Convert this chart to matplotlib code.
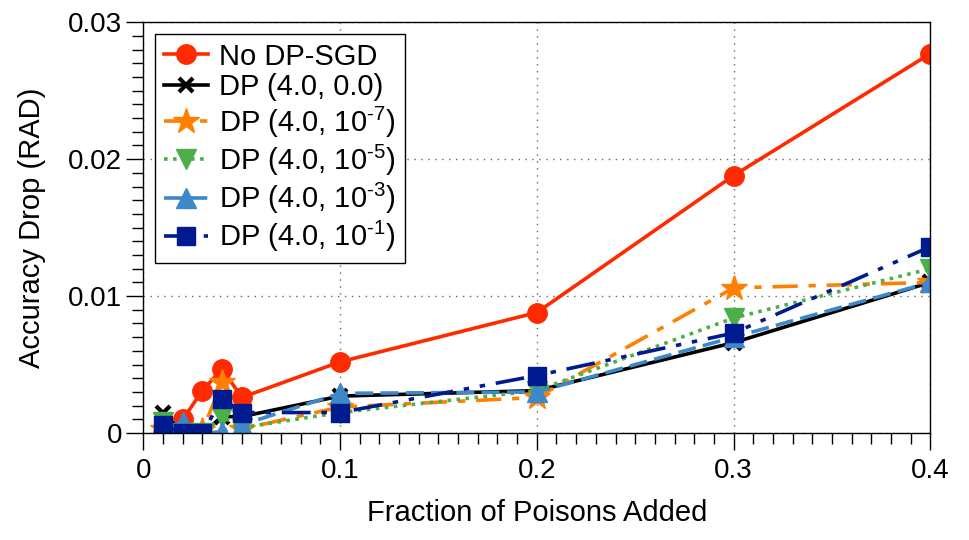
import matplotlib
matplotlib.use('Agg')
import matplotlib.pyplot as plt
from matplotlib.ticker import MultipleLocator, FuncFormatter

plt.rcParams['font.family'] = ['Liberation Sans', 'DejaVu Sans']
plt.rcParams['mathtext.fontset'] = 'custom'
plt.rcParams['mathtext.rm'] = 'Liberation Sans'

fractions = [0.01, 0.02, 0.03, 0.04, 0.05, 0.1, 0.2, 0.3, 0.4]

no_dp = [0.0000, 0.0010, 0.0031, 0.0047, 0.0026, 0.0052, 0.0088, 0.0188, 0.0277]
dp_0 = [0.0015, 0.0000, 0.0000, 0.0012, 0.0012, 0.0027, 0.0031, 0.0066, 0.0110]
dp_7 = [0.0003, 0.0000, 0.0002, 0.0037, 0.0003, 0.0019, 0.0026, 0.0106, 0.0110]
dp_5 = [0.0008, 0.0000, 0.0000, 0.0012, 0.0004, 0.0015, 0.0031, 0.0084, 0.0120]
dp_3 = [0.0003, 0.0008, 0.0000, 0.0001, 0.0006, 0.0029, 0.0030, 0.0070, 0.0110]
dp_1 = [0.0006, 0.0000, 0.0000, 0.0025, 0.0015, 0.0015, 0.0042, 0.0073, 0.0136]

labels = ['No DP-SGD', 'DP (4.0, 0.0)', r'DP (4.0, 10$^{\text{-}7}$)', r'DP (4.0, 10$^{\text{-}5}$)',
          r'DP (4.0, 10$^{\text{-}3}$)', r'DP (4.0, 10$^{\text{-}1}$)']

fig, ax = plt.subplots(figsize=(9.69, 5.4), dpi=100)
fig.subplots_adjust(left=0.148, right=0.96, top=0.959, bottom=0.198)

ax.plot(fractions, no_dp, color='#ff2a00', lw=2.6, marker='o', ms=14, mec='#ff2a00', label=labels[0])
ax.plot(fractions, dp_0, color='black', lw=2.6, marker='x', ms=10, mew=3, label=labels[1])
ax.plot(fractions, dp_7, color='#ff8000', lw=2.6, ls=(0, (7, 3, 2, 3)), marker='*', ms=19, label=labels[2])
ax.plot(fractions, dp_5, color='#4caf4a', lw=2.6, ls=(0, (1, 1.5)), marker='v', ms=14, label=labels[3])
ax.plot(fractions, dp_3, color='#3d88c8', lw=2.6, ls=(0, (5, 2)), marker='^', ms=14, label=labels[4])
ax.plot(fractions, dp_1, color='#001a8f', lw=2.6, ls=(0, (8, 3, 1.5, 3, 1.5, 3)), marker='s', ms=13.5, label=labels[5])

ax.set_xlim(0, 0.4)
ax.set_ylim(0, 0.03)
ax.xaxis.set_major_locator(MultipleLocator(0.1))
ax.xaxis.set_minor_locator(MultipleLocator(0.01))
ax.yaxis.set_major_locator(MultipleLocator(0.01))
ax.yaxis.set_minor_locator(MultipleLocator(0.001))
fmt = FuncFormatter(lambda v, p: '%g' % round(v, 4))
ax.xaxis.set_major_formatter(fmt)
ax.yaxis.set_major_formatter(fmt)
ax.tick_params(which='major', direction='out', length=12, width=1, labelsize=20)
ax.tick_params(which='minor', direction='out', length=8, width=1)
ax.tick_params(axis='x', pad=6)

ax.grid(True, which='major', ls=(0, (1, 4)), color='#666666', lw=1)
for sp in ax.spines.values():
    sp.set_linewidth(1)

ax.set_xlabel('Fraction of Poisons Added', fontsize=21, labelpad=11)
ax.set_ylabel('Accuracy Drop (RAD)', fontsize=21, labelpad=16)

leg = ax.legend(loc='upper left', fontsize=21, frameon=True, fancybox=False, framealpha=1,
                edgecolor='black', handlelength=1.5, borderpad=0.3, labelspacing=0.1,
                handletextpad=0.4, borderaxespad=0.4)
leg.get_frame().set_linewidth(1)

fig.savefig('out.png')
